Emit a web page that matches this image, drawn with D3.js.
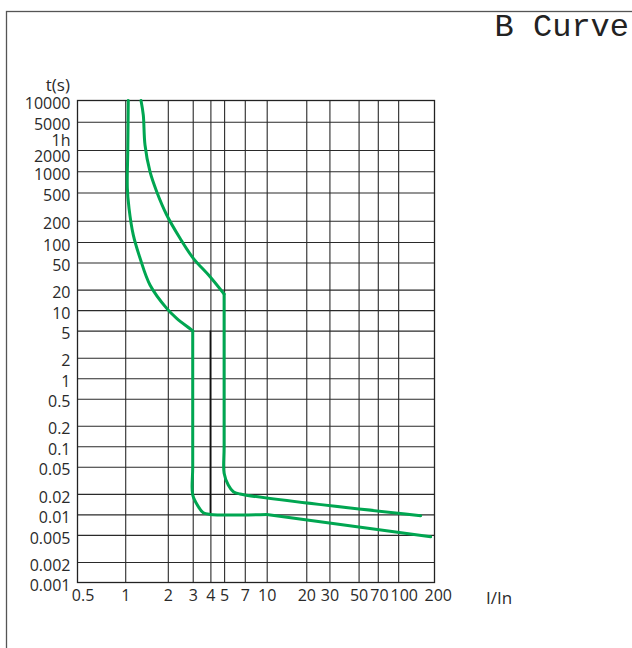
<!DOCTYPE html>
<html>
<head>
<meta charset="utf-8">
<script src="https://cdn.jsdelivr.net/npm/d3@7"></script>
<style>
  body { margin: 0; background: #fff; }
  svg { display: block; }
</style>
</head>
<body>
<div class="chart"></div>
<script>
const title = "B Curve";

// current axis (I/In)
const currentTicks = [0.5, 1, 2, 3, 4, 5, 7, 10, 20, 30, 50, 70, 100, 200];
const currentGrid = [1, 2, 3, 4, 5, 7, 10, 20, 30, 50, 70, 100];

// time axis (s)
const timeTicks = [10000, 5000, 3600, 2000, 1000, 500, 200, 100, 50, 20, 10, 5, 2, 1, 0.5, 0.2, 0.1, 0.05, 0.02, 0.01, 0.005, 0.002, 0.001];
const timeTickLabels = ["10000", "5000", "1h", "2000", "1000", "500", "200", "100", "50", "20", "10", "5", "2", "1", "0.5", "0.2", "0.1", "0.05", "0.02", "0.01", "0.005", "0.002", "0.001"];
const timeGrid = [5000, 2000, 1000, 500, 200, 100, 50, 20, 10, 5, 2, 1, 0.5, 0.2, 0.1, 0.05, 0.02, 0.01, 0.005, 0.002];

// lower limit curve: thermal part, magnetic part, tail
const minThermalI = [1.051, 1.043, 1.035, 1.064, 1.14, 1.272, 1.497, 1.965, 2.31, 3];
const minThermalT = [10000, 2000, 579, 299, 126, 58.2, 23.4, 10.6, 7.58, 5];
const minMagneticI = [3, 3, 3, 3.29, 3.56, 3.98, 10];
const minMagneticT = [5, 0.05, 0.0193, 0.01297, 0.0106, 0.01, 0.01];
const minTailI = [10, 176.8];
const minTailT = [0.01, 0.0047];

// upper limit curve
const maxThermalI = [1.293, 1.342, 1.38, 1.497, 1.67, 1.965, 2.44, 3.03, 3.98, 5];
const maxThermalT = [10000, 6240, 2350, 985, 514, 241, 113, 57.6, 30.9, 17.2];
const maxMagneticI = [5, 5, 5, 5.35, 5.81, 6.48, 148.5];
const maxMagneticT = [17.2, 0.1, 0.0401, 0.027, 0.02156, 0.01994, 0.00957];

// instantaneous trip marker
const instantI = [4, 4];
const instantT = [5, 0.01];

const width = 632, height = 648;
const plotLeft = 77.5, plotRight = 434.5, plotTop = 100.5, plotBottom = 582.5;

const svg = d3.select(".chart")
  .append("svg")
  .attr("width", width)
  .attr("height", height);

// outer frame
svg.append("rect")
  .attr("x", 6.5).attr("y", 11.5)
  .attr("width", 700).attr("height", 700)
  .attr("fill", "none")
  .attr("stroke", "#555")
  .attr("stroke-width", 1.3);

svg.append("text")
  .attr("x", 629).attr("y", 36)
  .attr("text-anchor", "end")
  .attr("font-family", "'Liberation Mono', 'Courier New', monospace")
  .attr("font-size", 32)
  .attr("fill", "#222")
  .text(title);

let x = d3.scaleLog()
  .domain([0.46, 10, 189])
  .range([plotLeft, 266.7, plotRight]);

let y = d3.scaleLog()
  .domain([0.001, 100, 10000])
  .range([plotBottom, 242, plotTop]);

const gridColor = "#2a2a2a";

// vertical grid
svg.append("g")
  .attr("transform", `translate(0,${plotBottom})`)
  .call(d3.axisBottom(x).tickValues(currentGrid).tickSize(-(plotBottom - plotTop)).tickFormat(""))
  .call(g => g.select(".domain").remove())
  .call(g => g.selectAll("line").attr("stroke", gridColor).attr("stroke-width", 1.1));

// horizontal grid
svg.append("g")
  .attr("transform", `translate(${plotLeft},0)`)
  .call(d3.axisLeft(y).tickValues(timeGrid).tickSize(-(plotRight - plotLeft)).tickFormat(""))
  .call(g => g.select(".domain").remove())
  .call(g => g.selectAll("line").attr("stroke", gridColor).attr("stroke-width", 1.1));

// plot frame
svg.append("rect")
  .attr("x", plotLeft).attr("y", plotTop)
  .attr("width", plotRight - plotLeft).attr("height", plotBottom - plotTop)
  .attr("fill", "none")
  .attr("stroke", "#222")
  .attr("stroke-width", 1.3);

// tick labels
const labelFont = "'Open Sans', 'Noto Sans', sans-serif";

// current labels are pushed right where they would collide
let prevRight = -Infinity;
svg.append("g")
  .attr("transform", `translate(0,${plotBottom})`)
  .call(d3.axisBottom(x).tickValues(currentTicks).tickSize(0).tickPadding(7).tickFormat(d => String(d)))
  .call(g => g.select(".domain").remove())
  .call(g => g.selectAll("text")
    .attr("font-family", labelFont).attr("font-size", 16).attr("fill", "#2a2a2a")
    .attr("x", function (d) {
      let w = this.getComputedTextLength();
      let cx = Math.max(x(d), prevRight + 2 + w / 2);
      prevRight = cx + w / 2;
      return cx - x(d);
    }));

// time labels are pushed down where they would collide
let prevY = -Infinity;
svg.append("g")
  .attr("transform", `translate(${plotLeft},0)`)
  .call(d3.axisLeft(y).tickValues(timeTicks).tickSize(0).tickPadding(7)
    .tickFormat((d, i) => timeTickLabels[i]))
  .call(g => g.select(".domain").remove())
  .call(g => g.selectAll("text")
    .attr("y", d => {
      let pos = Math.max(y(d) + 3, prevY + 16);
      prevY = pos;
      return pos - y(d);
    })
    .attr("font-family", labelFont).attr("font-size", 16).attr("fill", "#2a2a2a"));

svg.append("text")
  .attr("x", 70).attr("y", 91)
  .attr("text-anchor", "end")
  .attr("font-family", labelFont).attr("font-size", 17).attr("fill", "#2a2a2a")
  .text("t(s)");

svg.append("text")
  .attr("x", 486).attr("y", 604)
  .attr("font-family", labelFont).attr("font-size", 17).attr("fill", "#2a2a2a")
  .text("I/In");

// instantaneous marker
let straight = d3.line()
  .x(d => x(d[0]))
  .y(d => y(d[1]));

svg.append("path")
  .datum(d3.zip(instantI, instantT))
  .attr("d", straight)
  .attr("fill", "none")
  .attr("stroke", "#111")
  .attr("stroke-width", 1.6);

// curves
let smooth = d3.line()
  .x(d => x(d[0]))
  .y(d => y(d[1]))
  .curve(d3.curveCatmullRom.alpha(0.5));

const green = "#00a651";
[
  [minThermalI, minThermalT],
  [minMagneticI, minMagneticT],
  [minTailI, minTailT],
  [maxThermalI, maxThermalT],
  [maxMagneticI, maxMagneticT]
].forEach(([is, ts]) => {
  svg.append("path")
    .datum(d3.zip(is, ts))
    .attr("d", smooth)
    .attr("fill", "none")
    .attr("stroke", green)
    .attr("stroke-width", 3)
    .attr("stroke-linejoin", "round")
    .attr("stroke-linecap", "round");
});
</script>
</body>
</html>
